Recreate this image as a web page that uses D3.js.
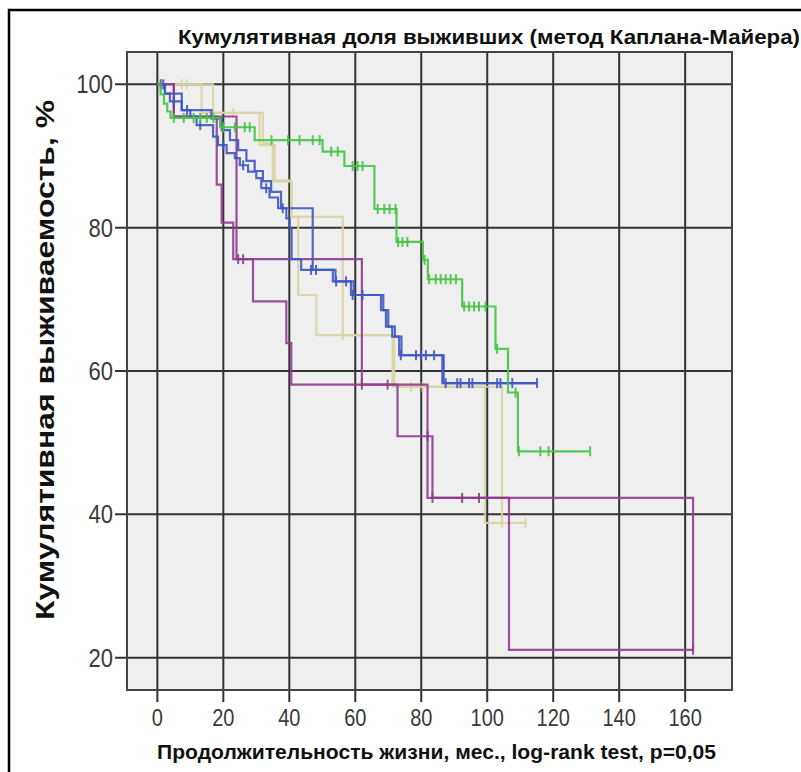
<!DOCTYPE html>
<html lang="ru">
<head>
<meta charset="UTF-8">
<title>Кумулятивная доля выживших</title>
<script src="https://d3js.org/d3.v7.min.js"></script>
<style>
  body { margin: 0; background: #fff; }
  svg { display: block; font-family: "Liberation Sans", Arial, sans-serif; }
</style>
</head>
<body>
<div id="chart"></div>
<script>
// ticks
const xTicks = [0, 20, 40, 60, 80, 100, 120, 140, 160];
const yTicks = [20, 40, 60, 80, 100];

// green group
const greenTime = [0, 1, 2, 3, 4, 19, 29.5, 50.1, 56.7, 65.8, 72.5, 80.5, 82, 92.4, 102.5, 106.3, 109.3];
const greenSurv = [100, 98.6, 97.3, 96.2, 95.3, 94, 92.2, 90.6, 88.6, 82.6, 78, 75.5, 72.8, 69, 63.1, 57, 48.8];
const greenCens = [5, 8, 11, 13, 15, 17, 20, 23.5, 26.5, 28, 34.6, 39.6, 43.1, 47.1, 49.2, 52.7, 54.7,
  59.2, 60.7, 62.2, 66.8, 68.8, 70.4, 72.2, 73, 74.3, 75.8, 81, 82.4, 84.4, 85.9, 87.4, 88.9, 90.5,
  93, 94.5, 96, 97.5, 99.5, 103, 108.6, 109.6, 116.1, 118.6, 131.2];

// blue groups
const blueATime = [0, 2.3, 3.8, 7.4, 10, 11.9, 16.9, 18.4, 21, 23.5, 25, 27.5, 30, 31.5, 34, 36.6, 39.1, 40.1, 40.7, 43.6, 53.2, 58.7, 67.8, 69.3, 71.2, 73.3, 86.4];
const blueASurv = [100, 98.7, 97.6, 96.4, 95.5, 94.3, 92.7, 91.5, 90.4, 89.7, 88.7, 87.8, 86.9, 85.5, 84.2, 82.7, 81.3, 79.9, 75.6, 74.1, 72.5, 70.6, 68.5, 66.2, 64.8, 62.2, 58.3];
const blueBTime = [0, 2.3, 7.4, 16.4, 19.5, 22, 24.5, 27, 29.5, 32, 34.5, 37.5, 47.1, 54, 59.5, 68.5, 70, 72, 74, 86.8];
const blueBSurv = [100, 98.7, 96.4, 95.2, 93.6, 92.2, 90.8, 89.3, 87.9, 86.5, 85, 82.7, 74.1, 72.5, 70.6, 68.5, 66.2, 64.8, 62.2, 58.3];
const blueCens = [1.8, 5, 9, 13, 20, 26, 33, 38, 46.6, 48.1, 54.2, 57.2, 59.2, 62.2, 73.8, 78.4, 79.9, 81.4, 83.9,
  87.4, 90.9, 91.9, 94.5, 95.5, 103, 104, 107.6, 115.1];

// tan groups
const tanATime = [0, 16.9, 31, 35.6, 40.6, 56.2, 71.3, 99.3];
const tanASurv = [100, 96, 91.5, 86.4, 81.5, 65, 57.8, 38.8];
const tanBTime = [0, 13.4, 32, 35, 40.6, 42.7, 48.2, 71.8, 104.5];
const tanBSurv = [100, 96, 91.8, 86.6, 81.5, 70.6, 65, 57.8, 38.8];
const tanCens = [7.4, 8.9, 23, 56.2, 76.9, 80.4, 104.5, 111.6];

// purple groups
const purpleATime = [0, 5, 18, 19.5, 23, 29, 39.1, 40.6, 72.8, 83.4, 106.6];
const purpleASurv = [100, 95.5, 86, 80.7, 75.6, 69.7, 63.9, 58.1, 50.9, 42.3, 21.1];
const purpleBTime = [0, 5, 24, 62, 81.9, 162.4];
const purpleBSurv = [100, 95.5, 75.6, 58.1, 42.3, 21.1];
const purpleACens = [1, 24.5, 26, 69.8, 81.9, 83.4, 92.4, 97.5, 162.4];
const purpleBCens = [62];

const series = [
  {time: tanATime, surv: tanASurv, end: 111.6, cens: tanCens, color: "#d9d3a2"},
  {time: tanBTime, surv: tanBSurv, end: 104.5, cens: [], color: "#d9d3a2"},
  {time: purpleATime, surv: purpleASurv, end: 162.4, cens: purpleACens, color: "#8f3c90"},
  {time: purpleBTime, surv: purpleBSurv, end: 162.4, cens: purpleBCens, color: "#8f3c90"},
  {time: blueBTime, surv: blueBSurv, end: 115.1, cens: [], color: "#3e58c2"},
  {time: blueATime, surv: blueASurv, end: 115.1, cens: blueCens, color: "#3e58c2"},
  {time: greenTime, surv: greenSurv, end: 131.2, cens: greenCens, color: "#44c444"}
];

const width = 801, height = 772;
const svg = d3.select("#chart").append("svg")
  .attr("width", width).attr("height", height);

// outer frame (left and top edges visible)
svg.append("path")
  .attr("d", "M9,772 V10 H801")
  .attr("fill", "none").attr("stroke", "#000").attr("stroke-width", 2.5);

const plot = {left: 127, right: 732, top: 52, bottom: 690};
const x = d3.scaleLinear().domain([-9.2, 174.2]).range([plot.left, plot.right]);
const y = d3.scaleLinear().domain([15.5, 104.5]).range([plot.bottom, plot.top]);

svg.append("rect")
  .attr("x", plot.left).attr("y", plot.top)
  .attr("width", plot.right - plot.left).attr("height", plot.bottom - plot.top)
  .attr("fill", "#efefef");

// grid
svg.append("g").selectAll("line").data(xTicks).join("line")
  .attr("x1", d => x(d)).attr("x2", d => x(d))
  .attr("y1", plot.top).attr("y2", plot.bottom + 12)
  .attr("stroke", "#333").attr("stroke-width", 2);
svg.append("g").selectAll("line").data(yTicks).join("line")
  .attr("x1", plot.left - 12).attr("x2", plot.right)
  .attr("y1", d => y(d)).attr("y2", d => y(d))
  .attr("stroke", "#333").attr("stroke-width", 2);

svg.append("rect")
  .attr("x", plot.left).attr("y", plot.top)
  .attr("width", plot.right - plot.left).attr("height", plot.bottom - plot.top)
  .attr("fill", "none").attr("stroke", "#444").attr("stroke-width", 2);

// tick labels (the picture is a little stretched vertically)
svg.append("g").selectAll("text").data(xTicks).join("text")
  .attr("transform", d => `translate(${x(d)},726) scale(1,1.2)`)
  .attr("text-anchor", "middle")
  .attr("font-size", 20).attr("fill", "#3a3a3a")
  .text(d => d);
svg.append("g").selectAll("text").data(yTicks).join("text")
  .attr("transform", d => `translate(113,${y(d) + 9}) scale(1,1.18)`)
  .attr("text-anchor", "end")
  .attr("font-size", 22).attr("fill", "#3a3a3a")
  .text(d => d);

// survival curves
const line = d3.line().x(d => x(d[0])).y(d => y(d[1])).curve(d3.curveStepAfter);
function survAt(s, t) {
  const i = d3.bisectRight(s.time, t) - 1;
  return s.surv[Math.max(i, 0)];
}

series.forEach(s => {
  const pts = s.time.map((t, i) => [t, s.surv[i]]);
  if (s.end > s.time[s.time.length - 1]) pts.push([s.end, s.surv[s.surv.length - 1]]);
  svg.append("path")
    .attr("d", line(pts))
    .attr("fill", "none")
    .attr("stroke", s.color).attr("stroke-width", 2.2)
    .attr("stroke-opacity", 0.9);
  svg.append("g").selectAll("line").data(s.cens).join("line")
    .attr("x1", d => x(d)).attr("x2", d => x(d))
    .attr("y1", d => y(survAt(s, d)) - 5).attr("y2", d => y(survAt(s, d)) + 5)
    .attr("stroke", s.color).attr("stroke-width", 2)
    .attr("stroke-opacity", 0.9);
});

// titles
svg.append("text")
  .attr("transform", "translate(178,44) scale(1,1.15)")
  .attr("font-size", 18).attr("font-weight", "bold").attr("fill", "#111")
  .attr("textLength", 622).attr("lengthAdjust", "spacingAndGlyphs")
  .text("Кумулятивная доля выживших (метод Каплана-Майера)");

svg.append("text")
  .attr("transform", "translate(157,759) scale(1,1.15)")
  .attr("font-size", 18).attr("font-weight", "bold").attr("fill", "#111")
  .attr("textLength", 559).attr("lengthAdjust", "spacingAndGlyphs")
  .text("Продолжительность жизни, мес., log-rank test, p=0,05");

svg.append("text")
  .attr("transform", "translate(54,620) rotate(-90)")
  .attr("font-size", 26).attr("font-weight", "bold").attr("fill", "#111")
  .attr("textLength", 520).attr("lengthAdjust", "spacingAndGlyphs")
  .text("Кумулятивная выживаемость, %");
</script>
</body>
</html>
